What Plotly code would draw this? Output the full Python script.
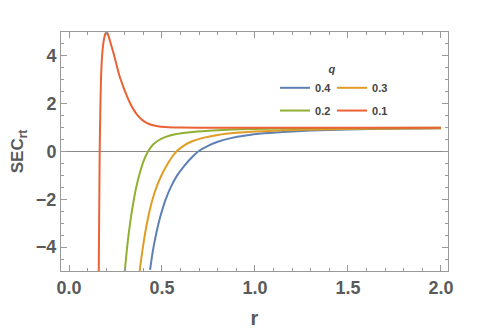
import plotly.graph_objects as go

# curve samples (r, SEC_rt)
r_q04 = [0.436, 0.45, 0.47, 0.49, 0.52, 0.55, 0.58, 0.62, 0.66, 0.70, 0.75, 0.80, 0.87, 0.95, 1.05, 1.15, 1.3, 1.5, 1.75, 2.0]
sec_q04 = [-4.95, -4.2, -3.4, -2.75, -2.0, -1.45, -1.02, -0.6, -0.25, 0.03, 0.25, 0.41, 0.56, 0.67, 0.76, 0.82, 0.88, 0.925, 0.955, 0.97]

r_q03 = [0.380, 0.39, 0.405, 0.425, 0.45, 0.475, 0.50, 0.53, 0.555, 0.58, 0.62, 0.66, 0.72, 0.80, 0.90, 1.0, 1.15, 1.35, 1.6, 2.0]
sec_q03 = [-5.0, -4.4, -3.62, -2.78, -1.98, -1.4, -0.95, -0.52, -0.22, 0.02, 0.26, 0.42, 0.57, 0.69, 0.78, 0.835, 0.885, 0.925, 0.95, 0.97]

r_q02 = [0.300, 0.31, 0.32, 0.335, 0.35, 0.365, 0.38, 0.40, 0.425, 0.45, 0.48, 0.52, 0.57, 0.65, 0.75, 0.85, 1.0, 1.25, 1.6, 2.0]
sec_q02 = [-5.0, -4.2, -3.5, -2.65, -1.95, -1.38, -0.92, -0.42, 0.0, 0.27, 0.46, 0.61, 0.72, 0.81, 0.87, 0.91, 0.945, 0.97, 0.985, 0.99]

r_q01 = [0.160, 0.163, 0.165, 0.168, 0.172, 0.178, 0.186, 0.195, 0.203, 0.212, 0.225, 0.24, 0.255, 0.27, 0.29, 0.31, 0.33, 0.35, 0.37, 0.40, 0.43, 0.47, 0.52, 0.60, 0.8, 1.2, 2.0]
sec_q01 = [-5.0, -2.0, 0.0, 1.5, 3.0, 4.0, 4.6, 4.92, 5.0, 4.85, 4.5, 4.1, 3.65, 3.2, 2.75, 2.35, 2.0, 1.72, 1.5, 1.28, 1.15, 1.07, 1.02, 1.0, 0.995, 0.995, 0.995]

series = [
    ("0.4", r_q04, sec_q04, "#5E81B5", "legend"),
    ("0.3", r_q03, sec_q03, "#E19C24", "legend"),
    ("0.2", r_q02, sec_q02, "#8FB032", "legend2"),
    ("0.1", r_q01, sec_q01, "#EB6235", "legend2"),
]

fig = go.Figure()
for name, xs, ys, col, lg in series:
    fig.add_trace(go.Scatter(x=xs, y=ys, mode="lines", name=name,
                             line=dict(color=col, width=2, shape="spline", smoothing=0.5),
                             legend=lg))

axis_font = dict(family="Liberation Sans", size=18, color="#5a5a5a", weight="bold")
common = dict(showgrid=False, showline=True, linecolor="#999999", linewidth=1,
              mirror="allticks", ticks="inside", ticklen=6, tickcolor="#999999",
              tickfont=axis_font, automargin=False)

fig.update_xaxes(range=[-0.043, 2.038], dtick=0.5, tick0=0, tickformat=".1f",
                 zeroline=False,
                 minor=dict(dtick=0.1, ticks="inside", ticklen=3, tickcolor="#999999"),
                 title=dict(text="<b>r</b>", font=dict(axis_font, size=20), standoff=14),
                 **common)
fig.update_yaxes(range=[-5, 5], dtick=2, tick0=0,
                 zeroline=True, zerolinecolor="#888888", zerolinewidth=1,
                 minor=dict(dtick=0.5, ticks="inside", ticklen=3, tickcolor="#999999"),
                 title=dict(text="<b>SEC<sub>rt</sub></b>", font=dict(axis_font, size=17), standoff=10),
                 **common)

leg_font = dict(family="Liberation Sans", size=11, color="#444444", weight="bold")
# the page puts the figure 8px in from the top-left corner, so margins are shifted
fig.update_layout(
    width=480, height=331,
    margin=dict(l=53, r=40, t=24, b=68, autoexpand=False),
    plot_bgcolor="white", paper_bgcolor="white",
    font=dict(family="Liberation Sans"),
    showlegend=True,
    legend=dict(orientation="h", x=0.553, y=0.887, xanchor="left", yanchor="top",
                bgcolor="rgba(0,0,0,0)", font=leg_font, itemwidth=30, entrywidth=12,
                tracegroupgap=0,
                title=dict(text="<b><i>q</i></b>", side="top center", font=leg_font)),
    legend2=dict(orientation="h", x=0.553, y=0.732, xanchor="left", yanchor="top",
                 bgcolor="rgba(0,0,0,0)", font=leg_font, itemwidth=30, entrywidth=12),
)

fig.write_html("out.html")
